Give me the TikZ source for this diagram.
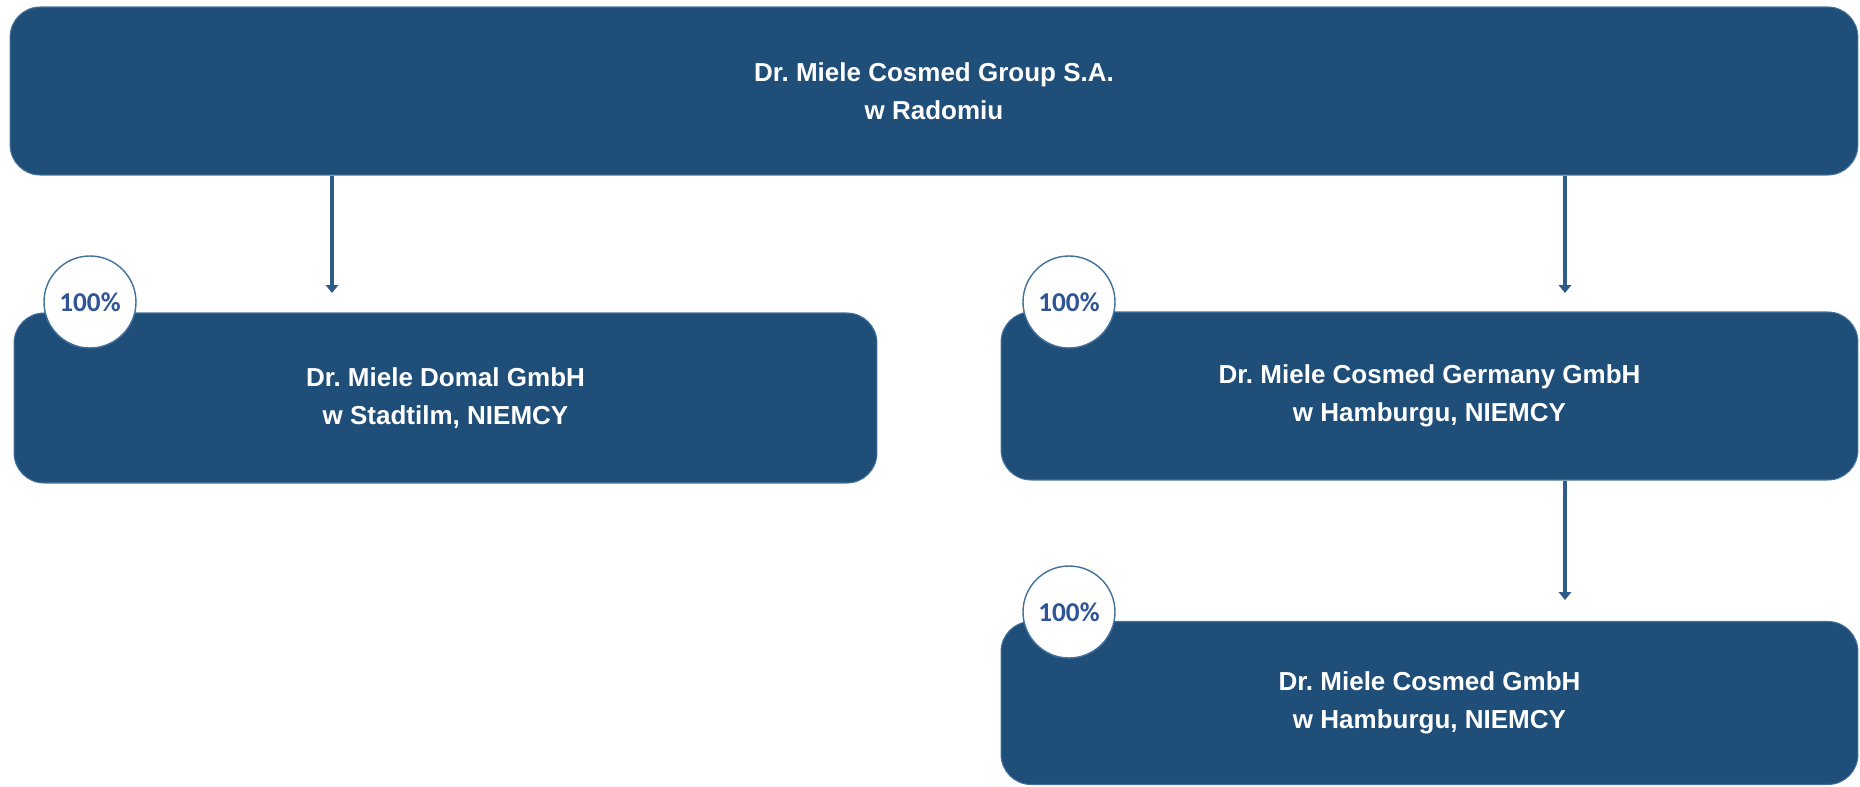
\documentclass[tikz,border=0pt]{standalone}
\usepackage{fontspec}
\setmainfont{Liberation Sans}
\newfontfamily\pctfont{Carlito}
\usepackage{xcolor}
\usetikzlibrary{arrows.meta}
\definecolor{boxblue}{HTML}{1F4E79}
\definecolor{edgeblue}{HTML}{41719C}
\definecolor{linkblue}{HTML}{2E5C8A}
\definecolor{pctblue}{HTML}{2F5597}
\frenchspacing
\tikzset{
  unit/.style={rectangle, rounded corners=0.6cm, fill=boxblue, draw=edgeblue, line width=0.6pt,
    text=white, align=center, font=\fontsize{14.8}{21.5}\selectfont\bfseries, inner sep=0pt},
  share/.style={circle, fill=white, draw=edgeblue, line width=0.8pt, minimum size=1.84cm,
    inner sep=0pt, text=pctblue, font=\pctfont\fontsize{15.5}{18}\selectfont\bfseries},
  link/.style={draw=linkblue, line width=2.4pt, -{Triangle[length=4.5pt,width=7pt]}},
}
\begin{document}
\begin{tikzpicture}[x=0.02cm, y=-0.02cm]
  \useasboundingbox (0,0) rectangle (1860,787);

  % spolki
  \node[unit, minimum width=36.96cm, minimum height=3.36cm] (parent) at (934,91)
    {Dr. Miele Cosmed Group S.A.\\w Radomiu};
  \node[unit, minimum width=17.26cm, minimum height=3.4cm] (domal) at (445.5,398)
    {Dr. Miele Domal GmbH\\w Stadtilm, NIEMCY};
  \node[unit, minimum width=17.14cm, minimum height=3.36cm] (germany) at (1429.5,396)
    {Dr. Miele Cosmed Germany GmbH\\w Hamburgu, NIEMCY};
  \node[unit, minimum width=17.14cm, minimum height=3.26cm] (cosmed) at (1429.5,703)
    {Dr. Miele Cosmed GmbH\\w Hamburgu, NIEMCY};

  % udzialy
  \node[share] (s1) at (90,302) {100\%};
  \node[share] (s2) at (1069,302) {100\%};
  \node[share] (s3) at (1069,612) {100\%};

  % powiazania
  \coordinate (a1) at (332,293);
  \coordinate (a2) at (1565,293);
  \coordinate (a3) at (1565,600);
  \draw[link] (parent.south -| a1) -- (a1);
  \draw[link] (parent.south -| a2) -- (a2);
  \draw[link] (germany.south -| a3) -- (a3);
\end{tikzpicture}
\end{document}
